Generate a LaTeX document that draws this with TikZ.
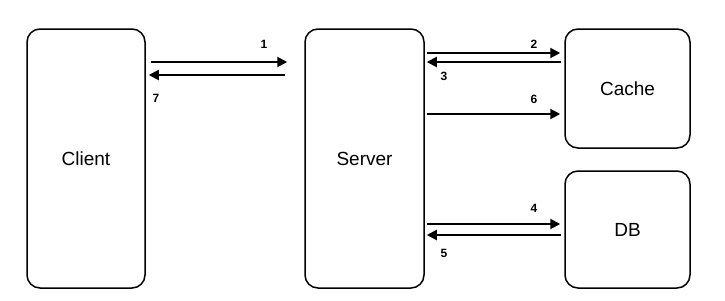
\documentclass[tikz,border=0pt]{standalone}
\usepackage{fontspec}
\setmainfont{Liberation Sans}
\usetikzlibrary{arrows.meta}

\begin{document}
\begin{tikzpicture}[
  x=1pt, y=-1pt,
  font=\fontsize{19}{21}\selectfont,
  >={Triangle[length=10pt, width=10pt]},
  box/.style={draw, line width=1.5pt, rounded corners=13pt, inner sep=0pt},
  flow/.style={->, line width=2pt},
  num/.style={font=\fontsize{12}{13}\selectfont\bfseries}
]
  \useasboundingbox (0,0) rectangle (725,300);

  \node[box, minimum width=118, minimum height=259] (client) at (86,158.5) {Client};
  \node[box, minimum width=119, minimum height=259] (server) at (364.5,158.5) {Server};
  \node[box, minimum width=125, minimum height=119] (cache) at (627.5,88.5) {Cache};
  \node[box, minimum width=125, minimum height=117] (db) at (627.5,229.5) {DB};

  \coordinate (y1) at (0,62);
  \coordinate (y7) at (0,75);
  \coordinate (y2) at (0,53);
  \coordinate (y3) at (0,62);
  \coordinate (y6) at (0,114);
  \coordinate (y4) at (0,224);
  \coordinate (y5) at (0,235);

  \draw[flow, shorten <=5pt, shorten >=17pt] (client.east |- y1) -- (server.west |- y1);
  \draw[flow, shorten <=19pt, shorten >=3pt] (server.west |- y7) -- (client.east |- y7);
  \draw[flow, shorten <=2pt, shorten >=4pt] (server.east |- y2) -- (cache.west |- y2);
  \draw[flow, shorten <=3pt, shorten >=2pt] (cache.west |- y3) -- (server.east |- y3);
  \draw[flow, shorten <=2pt, shorten >=4pt] (server.east |- y6) -- (cache.west |- y6);
  \draw[flow, shorten <=2pt, shorten >=4pt] (server.east |- y4) -- (db.west |- y4);
  \draw[flow, shorten <=3pt, shorten >=2pt] (db.west |- y5) -- (server.east |- y5);

  \node[num] (n1) at (264,44) {1};
  \node[num] (n7) at (156,98) {7};
  \node[num] (n2) at (534,44) {2};
  \node[num] (n3) at (444,76) {3};
  \node[num] (n6) at (534,99) {6};
  \node[num] (n4) at (534,208) {4};
  \node[num] (n5) at (444,253) {5};
\end{tikzpicture}
\end{document}
